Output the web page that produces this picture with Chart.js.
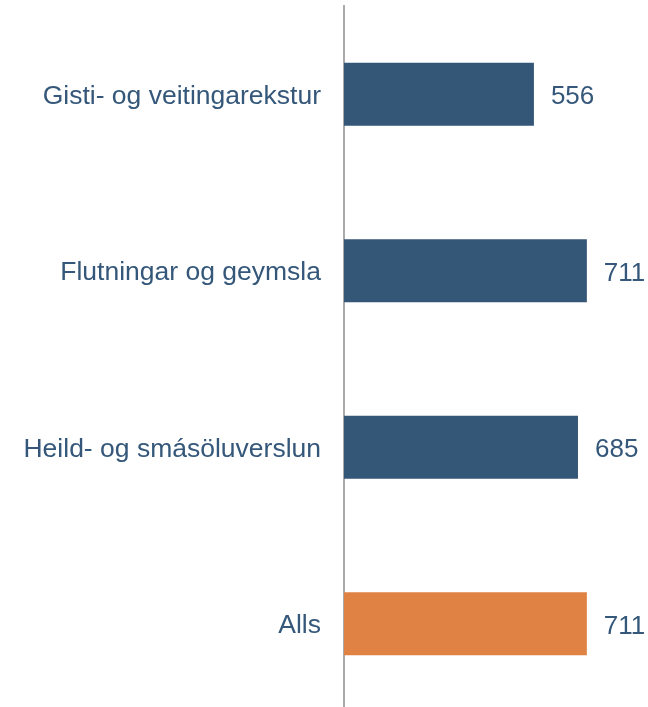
<!DOCTYPE html>
<html>
<head>
<meta charset="utf-8">
<script src="https://cdn.jsdelivr.net/npm/chart.js@4"></script>
<style>
  html, body { margin: 0; padding: 0; background: #fff; overflow: hidden; }
</style>
</head>
<body>
<canvas id="chart" width="648" height="713"></canvas>
<script>
var categories = ['Gisti- og veitingarekstur', 'Flutningar og geymsla', 'Heild- og smásöluverslun', 'Alls'];
var values = [556, 711, 685, 711];
var barColors = ['#345677', '#345677', '#345677', '#DF8243'];

var textColor = '#34577A';

// writes the value just past the end of each bar
var valueLabels = {
    id: 'valueLabels',
    afterDatasetsDraw: function(chart){
        var ctx = chart.ctx;
        var meta = chart.getDatasetMeta(0);
        ctx.save();
        ctx.font = '26px "Liberation Sans", Arial, sans-serif';
        ctx.fillStyle = textColor;
        ctx.textAlign = 'left';
        ctx.textBaseline = 'middle';
        meta.data.forEach(function(bar, i){
            ctx.fillText(values[i], bar.x + 17, bar.y + 3);
        });
        ctx.restore();
    }
};

var chart = new Chart(document.getElementById('chart'), {
    type: 'bar',
    data: {
        labels: categories,
        datasets: [{
            data: values,
            backgroundColor: barColors,
            borderWidth: 0,
            categoryPercentage: 1,
            barPercentage: 0.357
        }]
    },
    options: {
        indexAxis: 'y',
        responsive: false,
        animation: false,
        layout: { padding: { top: 6, right: 0, bottom: 1, left: 0 } },
        plugins: {
            legend: { display: false },
            tooltip: { enabled: false }
        },
        scales: {
            x: {
                display: false,
                min: 0,
                max: 890
            },
            y: {
                afterFit: function(scale){
                    scale.width = 344;
                    // labels sit mid-band, so no extra room above/below
                    scale.paddingTop = 0;
                    scale.paddingBottom = 0;
                },
                grid: { display: false, drawTicks: false },
                border: { display: true, color: '#ABABAB', width: 2 },
                ticks: {
                    padding: 23,
                    labelOffset: 2,
                    color: textColor,
                    font: { family: '"Liberation Sans", Arial, sans-serif', size: 26.5 }
                }
            }
        }
    },
    plugins: [valueLabels]
});
</script>
</body>
</html>
